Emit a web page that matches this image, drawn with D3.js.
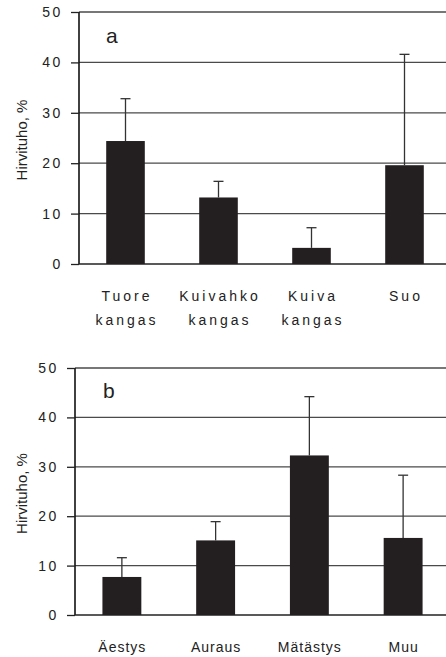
<!DOCTYPE html>
<html>
<head>
<meta charset="utf-8">
<script src="https://cdn.jsdelivr.net/npm/d3@7"></script>
<style>
  html, body { margin: 0; padding: 0; background: #fff; }
  svg { display: block; }
  text { font-family: Arial, "Liberation Sans", sans-serif; fill: #222; }
</style>
</head>
<body>
<svg id="chart" width="446" height="657"></svg>
<script>
// Panel a: forest site type
const categoriesA = [["Tuore", "kangas"], ["Kuivahko", "kangas"], ["Kuiva", "kangas"], ["Suo"]];
const meansA = [24.4, 13.2, 3.2, 19.6];
const upperA = [32.8, 16.4, 7.2, 41.6];

// Panel b: soil preparation method
const categoriesB = [["Äestys"], ["Auraus"], ["Mätästys"], ["Muu"]];
const meansB = [7.7, 15.1, 32.3, 15.6];
const upperB = [11.6, 18.9, 44.2, 28.3];

const yTicks = [0, 10, 20, 30, 40, 50];
const yTitle = "Hirvituho, %";

const svg = d3.select("#chart");

function panel(opts) {
  const { cats, means, upper, letter, x0, x1, yTop, yBottom,
          labelY, labelSpacing, lineGap, letterX, letterY } = opts;
  const g = svg.append("g");
  const names = cats.map(c => c.join(" "));

  const x = d3.scaleBand().domain(names).range([x0, x1])
    .paddingInner(0.585).paddingOuter(0.2925);
  const y = d3.scaleLinear().domain([0, 50]).range([yBottom, yTop]);

  // horizontal gridlines
  g.selectAll("line.grid").data(yTicks.filter(t => t > 0)).join("line")
    .attr("class", "grid")
    .attr("x1", x0).attr("x2", 446)
    .attr("y1", d => y(d)).attr("y2", d => y(d))
    .attr("stroke", "#4a4a4a").attr("stroke-width", 1.3);

  // y axis with outward ticks
  const axis = d3.axisLeft(y).tickValues(yTicks).tickSize(8).tickPadding(8);
  const ag = g.append("g").attr("transform", `translate(${x0},0)`).call(axis);
  ag.select(".domain").attr("stroke", "#111").attr("stroke-width", 1.6)
    .attr("d", `M0,${yBottom}V${yTop}`);
  ag.selectAll(".tick line").attr("stroke", "#222").attr("stroke-width", 1.3);
  ag.selectAll(".tick text")
    .attr("font-size", 14).attr("letter-spacing", 2.6).attr("fill", "#222")
    .attr("font-family", "Arial, 'Liberation Sans', sans-serif");

  // baseline at zero
  g.append("line")
    .attr("x1", x0).attr("x2", 446)
    .attr("y1", y(0)).attr("y2", y(0))
    .attr("stroke", "#222").attr("stroke-width", 1.5);

  // error bars (upper only)
  const err = g.selectAll("g.err").data(names).join("g").attr("class", "err");
  err.append("line")
    .attr("x1", d => x(d) + x.bandwidth() / 2).attr("x2", d => x(d) + x.bandwidth() / 2)
    .attr("y1", (d, i) => y(means[i])).attr("y2", (d, i) => y(upper[i]))
    .attr("stroke", "#333").attr("stroke-width", 1.3);
  err.append("line")
    .attr("x1", d => x(d) + x.bandwidth() / 2 - 5).attr("x2", d => x(d) + x.bandwidth() / 2 + 5)
    .attr("y1", (d, i) => y(upper[i])).attr("y2", (d, i) => y(upper[i]))
    .attr("stroke", "#333").attr("stroke-width", 1.3);

  // bars
  g.selectAll("rect.bar").data(names).join("rect")
    .attr("class", "bar")
    .attr("x", d => x(d)).attr("width", x.bandwidth())
    .attr("y", (d, i) => y(means[i]))
    .attr("height", (d, i) => y(0) - y(means[i]))
    .attr("fill", "#231f20");

  // category labels (possibly two lines)
  const lab = g.selectAll("text.cat").data(cats).join("text")
    .attr("class", "cat")
    .attr("text-anchor", "middle")
    .attr("font-size", 14)
    .attr("letter-spacing", labelSpacing)
    .attr("x", (d, i) => x(names[i]) + x.bandwidth() / 2 + labelSpacing / 2)
    .attr("y", labelY);
  lab.selectAll("tspan").data(d => d).join("tspan")
    .attr("x", function () { return this.parentNode.getAttribute("x"); })
    .attr("dy", (d, j) => j === 0 ? 0 : lineGap)
    .text(d => d);

  // y axis title
  g.append("text")
    .attr("transform", `translate(27,${(yTop + yBottom) / 2 + 2}) rotate(-90)`)
    .attr("text-anchor", "middle")
    .attr("font-size", 15)
    .text(yTitle);

  // panel letter
  g.append("text")
    .attr("x", letterX).attr("y", letterY)
    .attr("font-size", 21)
    .attr("fill", "#111")
    .text(letter);
}

panel({ cats: categoriesA, means: meansA, upper: upperA, letter: "a",
        x0: 79, x1: 451, yTop: 12, yBottom: 264,
        labelY: 301, labelSpacing: 3, lineGap: 24, letterX: 106, letterY: 43 });

panel({ cats: categoriesB, means: meansB, upper: upperB, letter: "b",
        x0: 75, x1: 450, yTop: 368, yBottom: 615,
        labelY: 652, labelSpacing: 1, lineGap: 24, letterX: 103, letterY: 398 });
</script>
</body>
</html>
